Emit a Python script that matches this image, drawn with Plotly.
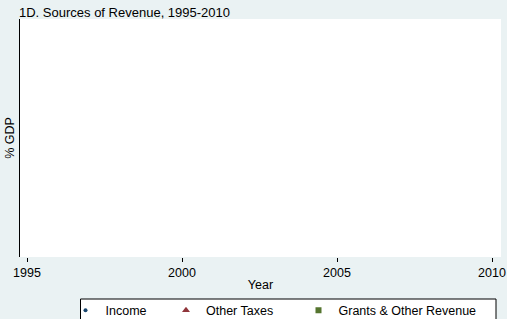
import plotly.graph_objects as go

# Data (the reference plot region shows no drawn values; series are empty)
years = [1995, 1996, 1997, 1998, 1999, 2000, 2001, 2002, 2003, 2004, 2005, 2006, 2007, 2008, 2009, 2010]
income = [None] * len(years)
other_taxes = [None] * len(years)
grants_other = [None] * len(years)
series_names = ["Income", "Other Taxes", "Grants & Other Revenue"]
x_ticks = [1995, 2000, 2005, 2010]

W, H = 507, 319
L, R, T, B = 20, 6, 19, 62
PW = W - L - R
PH = H - T - B

def px_x(p):
    return (p - L) / PW

def px_y(p):
    return (H - B - p) / PH

FONT = "Liberation Sans, Arial, Helvetica, sans-serif"

fig = go.Figure()
fig.add_trace(go.Scatter(x=years, y=income, name=series_names[0], mode="markers",
                         marker=dict(symbol="circle", size=4, color="#1a476f"), legend="legend"))
fig.add_trace(go.Scatter(x=years, y=other_taxes, name=series_names[1], mode="markers",
                         marker=dict(symbol="triangle-up", size=7, color="#90353b"), legend="legend2"))
fig.add_trace(go.Scatter(x=years, y=grants_other, name=series_names[2], mode="markers",
                         marker=dict(symbol="square", size=6, color="#55752f"), legend="legend3"))

leg_common = dict(orientation="h", yanchor="middle", xanchor="left", bgcolor="rgba(0,0,0,0)",
                  borderwidth=0, font=dict(family=FONT, size=12.5, color="black"),
                  itemwidth=30, y=px_y(310.5))

fig.update_layout(
    width=W, height=H,
    margin=dict(l=L, r=R, t=T, b=B, pad=0, autoexpand=False),
    paper_bgcolor="#eaf2f3",
    plot_bgcolor="white",
    font=dict(family=FONT, size=12.5, color="black"),
    title=dict(text="1D. Sources of Revenue, 1995-2010", x=19 / W, xref="container", xanchor="left",
               y=1 - 12 / H, yref="container", yanchor="middle", automargin=False,
               font=dict(family=FONT, size=13, color="black")),
    xaxis=dict(range=[1995 - 7 / 31, 2010 + 9 / 31], tickmode="array", tickvals=x_ticks,
               ticktext=[str(v) for v in x_ticks], ticks="outside", ticklen=4, tickcolor="black",
               showline=False, showgrid=False, zeroline=False, automargin=False,
               title=dict(text="Year", standoff=1, font=dict(family=FONT, size=12.5))),
    yaxis=dict(range=[0, 1], showticklabels=False, ticks="", showgrid=False, zeroline=False,
               showline=True, linecolor="black", linewidth=1, automargin=False,
               title=dict(text="% GDP", standoff=1, font=dict(family=FONT, size=12.5))),
    showlegend=True,
    legend=dict(leg_common, x=px_x(65.5)),
    legend2=dict(leg_common, x=px_x(166)),
    legend3=dict(leg_common, x=px_x(298.5)),
    shapes=[dict(type="rect", xref="paper", yref="paper",
                 x0=px_x(80.5), x1=px_x(496), y0=px_y(299), y1=px_y(325),
                 line=dict(color="black", width=1), fillcolor="white", layer="below")],
)

fig.write_html("out.html", config={"displayModeBar": False},
               post_script="document.body.style.margin='0';")
